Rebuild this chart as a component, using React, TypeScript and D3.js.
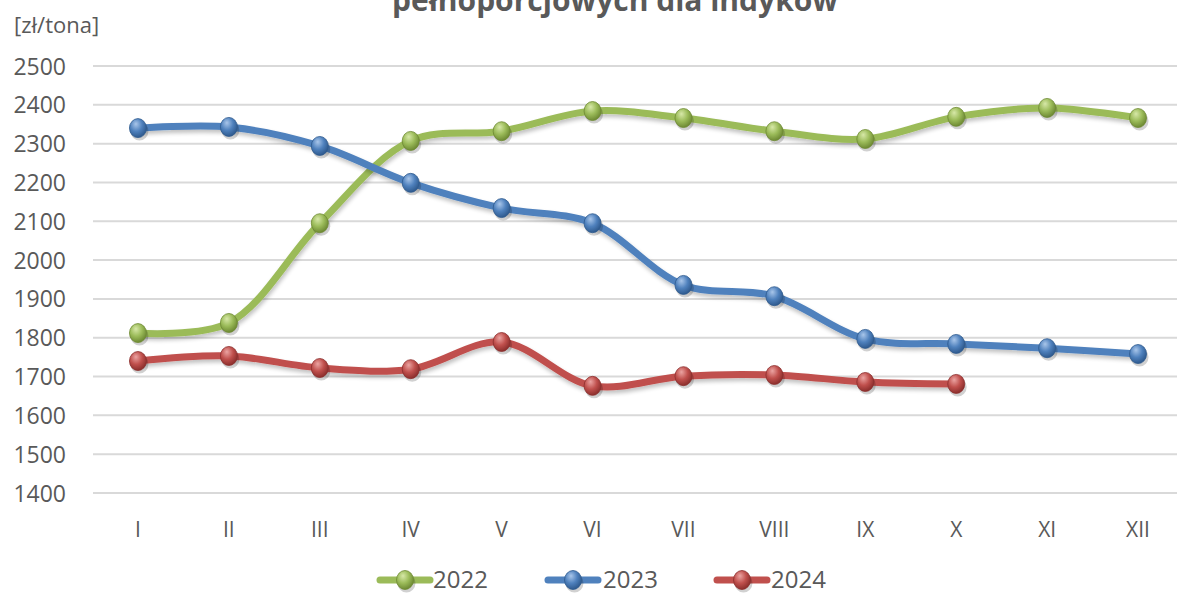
import React from "react";
import * as d3 from "d3";

const months = ["I", "II", "III", "IV", "V", "VI", "VII", "VIII", "IX", "X", "XI", "XII"];
const s2022 = [1812, 1838, 2095, 2307, 2332, 2384, 2366, 2332, 2312, 2369, 2392, 2366];
const s2023 = [2340, 2343, 2294, 2199, 2134, 2095, 1936, 1907, 1797, 1784, 1773, 1758];
const s2024 = [1740, 1753, 1722, 1719, 1789, 1676, 1701, 1704, 1686, 1681];
const yTicks = [1400, 1500, 1600, 1700, 1800, 1900, 2000, 2100, 2200, 2300, 2400, 2500];
const seriesNames = ["2022", "2023", "2024"];

const W = 1177;
const H = 594;
const FONT = "'Open Sans', 'Liberation Sans', sans-serif";
const TXT = "#595959";

const series = [
  { name: seriesNames[0], values: s2022, color: "#9BBB59", light: "#D7E8A8", dark: "#6E8A34" },
  { name: seriesNames[1], values: s2023, color: "#4F81BD", light: "#A9C6EA", dark: "#2F5A8E" },
  { name: seriesNames[2], values: s2024, color: "#C0504D", light: "#EBA4A2", dark: "#8C2F2D" },
];

export default function App() {
  const x = d3.scaleBand<string>().domain(months).range([92.5, 1183.5]);
  const y = d3.scaleLinear().domain([1400, 2500]).range([493, 66]);
  const cx = (m: string) => (x(m) as number) + x.bandwidth() / 2;
  const line = d3
    .line<number>()
    .x((_, i) => cx(months[i]))
    .y((v) => y(v))
    .curve(d3.curveCatmullRom.alpha(0.5));

  const Marker = ({ x0, y0, s, id }: any) => (
    <g>
      <ellipse cx={x0 + 1.5} cy={y0 + 3} rx={9} ry={9.5} fill="rgba(0,0,0,0.18)" />
      <ellipse cx={x0} cy={y0} rx={8.5} ry={9.5} fill={`url(#grad${id})`} stroke={s.dark} strokeWidth={0.8} />
    </g>
  );

  const legendItems = [
    { x0: 378, tx: 433 },
    { x0: 546, tx: 603 },
    { x0: 715, tx: 771 },
  ];

  return (
    <svg width={W} height={H} style={{ display: "block", position: "absolute", left: 0, top: 0 }}>
      <defs>
        {series.map((s, i) => (
          <radialGradient key={i} id={`grad${i}`} cx="40%" cy="35%" r="65%" fx="38%" fy="28%">
            <stop offset="0%" stopColor={s.light} />
            <stop offset="55%" stopColor={s.color} />
            <stop offset="100%" stopColor={s.dark} />
          </radialGradient>
        ))}
        <filter id="shadow" x="-10%" y="-10%" width="120%" height="130%">
          <feGaussianBlur in="SourceAlpha" stdDeviation="2" />
          <feOffset dx="1" dy="3" result="b" />
          <feComponentTransfer>
            <feFuncA type="linear" slope="0.25" />
          </feComponentTransfer>
          <feMerge>
            <feMergeNode />
            <feMergeNode in="SourceGraphic" />
          </feMerge>
        </filter>
      </defs>
      <rect width={W} height={H} fill="#fff" />
      <text x={615} y={11} textAnchor="middle" fontFamily={FONT} fontWeight="bold" fontSize={30} fill={TXT}>
        pełnoporcjowych dla indyków
      </text>
      <text x={14} y={33} fontFamily={FONT} fontSize={22} fill={TXT}>
        [zł/tona]
      </text>
      {yTicks.map((t) => (
        <g key={t}>
          <line x1={93} x2={1177} y1={y(t)} y2={y(t)} stroke="#D9D9D9" strokeWidth={2} />
          <text x={66} y={y(t) + 8.5} textAnchor="end" fontFamily={FONT} fontSize={23} fill={TXT}>
            {t}
          </text>
        </g>
      ))}
      {months.map((m) => (
        <text key={m} x={cx(m)} y={537} textAnchor="middle" fontFamily={FONT} fontSize={21} fill={TXT}>
          {m}
        </text>
      ))}
      {series.map((s) => (
        <g key={s.name}>
          <path d={line(s.values) || ""} fill="none" stroke={s.color} strokeWidth={7} strokeLinecap="round" filter="url(#shadow)" />
        </g>
      ))}
      {series.map((s, i) => (
        <g key={s.name + "m"}>
          {s.values.map((v, j) => (
            <Marker key={j} x0={cx(months[j])} y0={y(v)} s={s} id={i} />
          ))}
        </g>
      ))}
      {series.map((s, i) => {
        const L = legendItems[i];
        return (
          <g key={s.name + "l"}>
            <line x1={L.x0 + 2} x2={L.x0 + 52} y1={580} y2={580} stroke={s.color} strokeWidth={7} strokeLinecap="round" />
            <Marker x0={L.x0 + 27} y0={580} s={s} id={i} />
            <text x={L.tx} y={587.5} fontFamily={FONT} fontSize={24} fill={TXT}>
              {s.name}
            </text>
          </g>
        );
      })}
    </svg>
  );
}
